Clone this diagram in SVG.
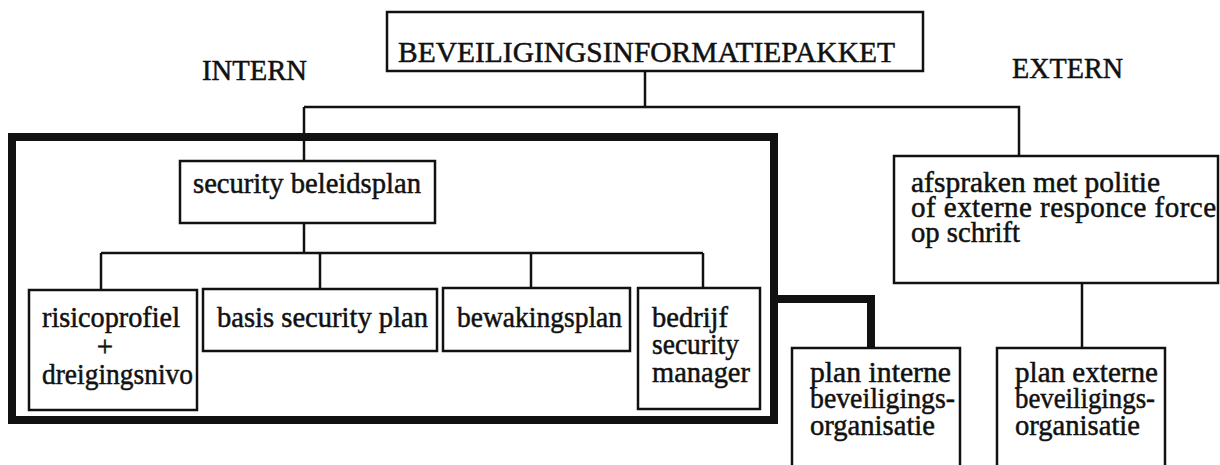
<svg xmlns="http://www.w3.org/2000/svg" width="1220" height="465" viewBox="0 0 1220 465">
<style>
  .box { fill: #fff; stroke: #111; stroke-width: 2.5; }
  .ln { fill: none; stroke: #111; stroke-width: 2.5; }
  .thick { fill: none; stroke: #111; stroke-width: 8; stroke-linejoin: miter; }
  text { font-family: "Liberation Serif", "Times New Roman", serif; font-size: 29px; fill: #111; stroke: #111; stroke-width: 0.5; }
</style>
<rect width="1220" height="465" fill="#fff"/>

<g id="connectors">
  <path class="ln" d="M645,71 V107"/>
  <path class="ln" d="M304,107 H1019 V156"/>
  <path class="ln" d="M304,107 V161"/>
  <path class="ln" d="M304,223 V253"/>
  <path class="ln" d="M101,253 H703"/>
  <path class="ln" d="M101,253 V290"/>
  <path class="ln" d="M320,253 V289"/>
  <path class="ln" d="M531,253 V288"/>
  <path class="ln" d="M703,253 V288"/>
  <path class="ln" d="M1082,283 V348"/>
  <path class="thick" d="M774,299 H871 V348"/>
</g>

<g id="intern-frame">
  <rect class="thick" x="12" y="137" width="762" height="283"/>
</g>

<g id="labels">
  <text x="202" y="80" textLength="105" lengthAdjust="spacingAndGlyphs">INTERN</text>
  <text x="1012" y="78" textLength="111" lengthAdjust="spacingAndGlyphs">EXTERN</text>
</g>

<g id="node-title">
  <rect class="box" x="387" y="12" width="536" height="59"/>
  <text x="398" y="62" textLength="497" lengthAdjust="spacingAndGlyphs">BEVEILIGINGSINFORMATIEPAKKET</text>
</g>

<g id="node-beleidsplan">
  <rect class="box" x="180" y="161" width="255" height="62"/>
  <text x="193" y="193" textLength="228" lengthAdjust="spacingAndGlyphs">security beleidsplan</text>
</g>

<g id="node-risico">
  <rect class="box" x="29" y="290" width="168" height="120"/>
  <text x="42" y="327" textLength="138" lengthAdjust="spacingAndGlyphs">risicoprofiel</text>
  <text x="105" y="356" text-anchor="middle">+</text>
  <text x="42" y="384" textLength="151" lengthAdjust="spacingAndGlyphs">dreigingsnivo</text>
</g>

<g id="node-basis">
  <rect class="box" x="203" y="289" width="234" height="62"/>
  <text x="217" y="327" textLength="211" lengthAdjust="spacingAndGlyphs">basis security plan</text>
</g>

<g id="node-bewaking">
  <rect class="box" x="443" y="288" width="187" height="63"/>
  <text x="457" y="327" textLength="165" lengthAdjust="spacingAndGlyphs">bewakingsplan</text>
</g>

<g id="node-bedrijf">
  <rect class="box" x="638" y="288" width="122" height="121"/>
  <text x="652" y="327" textLength="76" lengthAdjust="spacingAndGlyphs">bedrijf</text>
  <text x="652" y="354" textLength="87" lengthAdjust="spacingAndGlyphs">security</text>
  <text x="652" y="382" textLength="98" lengthAdjust="spacingAndGlyphs">manager</text>
</g>

<g id="node-afspraken">
  <rect class="box" x="894" y="156" width="324" height="127"/>
  <text x="911" y="192" textLength="249" lengthAdjust="spacingAndGlyphs">afspraken met politie</text>
  <text x="911" y="217" textLength="305" lengthAdjust="spacing">of externe responce force</text>
  <text x="911" y="242" textLength="109" lengthAdjust="spacingAndGlyphs">op schrift</text>
</g>

<g id="node-plan-intern">
  <path class="box" d="M792,470 V348 H960 V470"/>
  <text x="810" y="382" textLength="141" lengthAdjust="spacingAndGlyphs">plan interne</text>
  <text x="810" y="408" textLength="145" lengthAdjust="spacingAndGlyphs">beveiligings-</text>
  <text x="810" y="435" textLength="125" lengthAdjust="spacingAndGlyphs">organisatie</text>
</g>

<g id="node-plan-extern">
  <path class="box" d="M997,470 V348 H1165 V470"/>
  <text x="1015" y="382" textLength="143" lengthAdjust="spacingAndGlyphs">plan externe</text>
  <text x="1015" y="408" textLength="140" lengthAdjust="spacingAndGlyphs">beveiligings-</text>
  <text x="1015" y="435" textLength="125" lengthAdjust="spacingAndGlyphs">organisatie</text>
</g>
</svg>
